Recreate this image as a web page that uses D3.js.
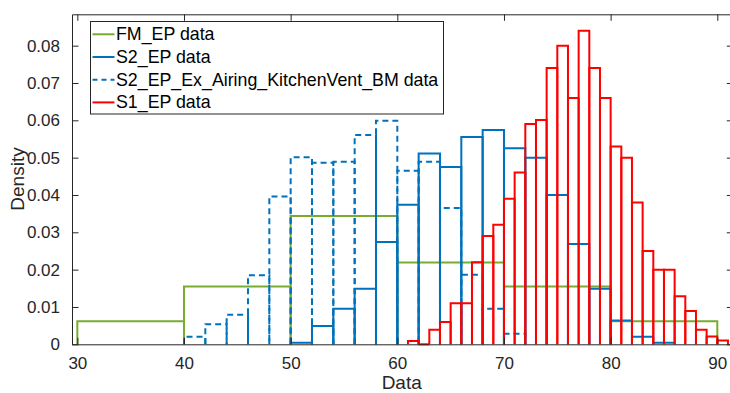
<!DOCTYPE html>
<html>
<head>
<meta charset="utf-8">
<script src="https://cdn.jsdelivr.net/npm/d3@7"></script>
<style>
  body { margin: 0; background: #fff; }
  svg { display: block; font-family: "Liberation Sans", Arial, sans-serif; }
</style>
</head>
<body>
<div id="chart"></div>
<script>
// histogram densities
var fmEdges = [30, 40, 50, 60, 70, 80, 90];
var fmVals = [0.0062, 0.0155, 0.0344, 0.0219, 0.0155, 0.0062];

var s2Edges = d3.range(50, 87, 2);
var s2Vals = [0.0004, 0.0049, 0.0095, 0.0149, 0.0274, 0.0374, 0.0511, 0.0475, 0.0555,
              0.0574, 0.0525, 0.0500, 0.0400, 0.0269, 0.0149, 0.0064, 0.0020, 0.0004];

var s2exEdges = d3.range(40, 73, 2);
var s2exVals = [0.0020, 0.0054, 0.0079, 0.0185, 0.0396, 0.0501, 0.0486, 0.0489,
                0.0561, 0.0599, 0.0465, 0.0489, 0.0365, 0.0186, 0.0095, 0.0028];

var s1Edges = d3.range(61, 92, 1);
var s1Vals = [0.0009, 0.0000, 0.0039, 0.0060, 0.0110, 0.0110, 0.0220, 0.0290, 0.0320,
              0.0390, 0.0460, 0.0590, 0.0601, 0.0740, 0.0800, 0.0660, 0.0840, 0.0740,
              0.0660, 0.0530, 0.0500, 0.0380, 0.0250, 0.0200, 0.0200, 0.0129, 0.0089,
              0.0039, 0.0021, 0.0010];

var xTicks = [30, 40, 50, 60, 70, 80, 90];
var yTicks = [0, 0.01, 0.02, 0.03, 0.04, 0.05, 0.06, 0.07, 0.08];
var yTickLabels = ["0", "0.01", "0.02", "0.03", "0.04", "0.05", "0.06", "0.07", "0.08"];

var series = [
  {name: "FM_EP data", edges: fmEdges, vals: fmVals, color: "#77AC30", dash: null},
  {name: "S2_EP data", edges: s2Edges, vals: s2Vals, color: "#0072BD", dash: null},
  {name: "S2_EP_Ex_Airing_KitchenVent_BM data", edges: s2exEdges, vals: s2exVals, color: "#0072BD", dash: "6,4"},
  {name: "S1_EP data", edges: s1Edges, vals: s1Vals, color: "#FF0000", dash: null}
];

var width = 730, height = 393;
var x = d3.scaleLinear().domain([29.5, 91.5]).range([72, 733.3]);
var y = d3.scaleLinear().domain([0, 0.0884]).range([344.3, 14.3]);
var axisColor = "#262626";

var svg = d3.select("#chart").append("svg")
  .attr("width", width)
  .attr("height", height);

// bars, one outline per bin
series.forEach(function(s) {
  var bins = s.vals.map(function(v, i) { return {x0: s.edges[i], x1: s.edges[i + 1], v: v}; });
  svg.append("g").selectAll("path")
    .data(bins)
    .enter()
    .append("path")
    .attr("d", function(d) {
      return "M" + x(d.x0) + "," + y(0) + "V" + y(d.v) + "H" + x(d.x1) + "V" + y(0);
    })
    .attr("fill", "none")
    .attr("stroke", s.color)
    .attr("stroke-width", 2)
    .attr("stroke-dasharray", s.dash);
});

// axes, MATLAB style: box with inward ticks
var axBottom = svg.append("g")
  .attr("transform", "translate(0," + y(0) + ")")
  .call(d3.axisBottom(x).tickValues(xTicks).tickSizeInner(-6.5).tickSizeOuter(0).tickPadding(13));
var axTop = svg.append("g")
  .attr("transform", "translate(0," + y.range()[1] + ")")
  .call(d3.axisTop(x).tickValues(xTicks).tickSizeInner(-6.5).tickSizeOuter(0).tickFormat(""));
var axLeft = svg.append("g")
  .attr("transform", "translate(" + x.range()[0] + ",0)")
  .call(d3.axisLeft(y).tickValues(yTicks).tickSizeInner(-6.5).tickSizeOuter(0).tickPadding(12)
    .tickFormat(function(d, i) { return yTickLabels[i]; }));
var axRight = svg.append("g")
  .attr("transform", "translate(" + x.range()[1] + ",0)")
  .call(d3.axisRight(y).tickValues(yTicks).tickSizeInner(-6.5).tickSizeOuter(0).tickFormat(""));

[axBottom, axTop, axLeft, axRight].forEach(function(g) {
  g.selectAll("path, line").attr("stroke", axisColor).attr("stroke-width", 1);
  g.selectAll("text").attr("fill", axisColor)
    .style("font-size", "17px")
    .style("font-family", "Liberation Sans, Arial, sans-serif");
});

svg.append("text")
  .attr("x", 401.7)
  .attr("y", 389)
  .attr("text-anchor", "middle")
  .attr("fill", axisColor)
  .style("font-size", "19px")
  .text("Data");

svg.append("text")
  .attr("transform", "translate(24,179) rotate(-90)")
  .attr("text-anchor", "middle")
  .attr("fill", axisColor)
  .style("font-size", "19px")
  .text("Density");

// legend
var lg = svg.append("g");
lg.append("rect")
  .attr("x", 90.5).attr("y", 21.5)
  .attr("width", 353).attr("height", 92.5)
  .attr("fill", "#fff")
  .attr("stroke", axisColor)
  .attr("stroke-width", 1);

var rows = lg.selectAll("g.row")
  .data(series)
  .enter()
  .append("g")
  .attr("class", "row")
  .attr("transform", function(d, i) { return "translate(0," + (34.3 + i * 22.7) + ")"; });

rows.append("line")
  .attr("x1", 92.5).attr("x2", 114.5)
  .attr("stroke", function(d) { return d.color; })
  .attr("stroke-width", 2)
  .attr("stroke-dasharray", function(d) { return d.dash ? "5,4" : null; });

rows.append("text")
  .attr("x", 116)
  .attr("y", 6)
  .attr("fill", "#000")
  .style("font-size", "17.8px")
  .text(function(d) { return d.name; });
</script>
</body>
</html>
